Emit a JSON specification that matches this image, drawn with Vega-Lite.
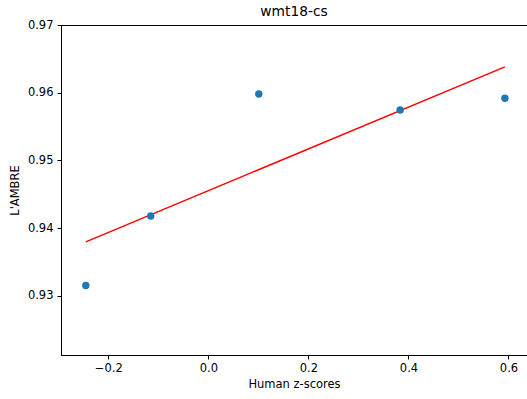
{
  "$schema": "https://vega.github.io/schema/vega-lite/v6.json",
  "width": 466,
  "height": 330,
  "autosize": "none",
  "padding": {"left": 61, "top": 25, "right": 0, "bottom": 44},
  "title": {"text": "wmt18-cs", "font": "DejaVu Sans", "fontSize": 13.8, "fontWeight": "normal", "color": "#000000", "anchor": "middle", "offset": 0},
  "config": {
    "view": {"stroke": "#000000", "strokeWidth": 1},
    "axis": {"grid": false, "domainColor": "#000000", "tickColor": "#000000", "tickSize": 4, "labelFont": "DejaVu Sans", "labelFontSize": 11.5, "labelColor": "#000000", "titleFont": "DejaVu Sans", "titleFontSize": 11.5, "titleFontWeight": "normal", "titleColor": "#000000"}
  },
  "data": {"values": [
    {"z": -0.245, "score": 0.93152},
    {"z": -0.1152, "score": 0.94177},
    {"z": 0.1008, "score": 0.95981},
    {"z": 0.3834, "score": 0.95744},
    {"z": 0.5928, "score": 0.95917}
  ]},
  "layer": [
    {
      "transform": [{"regression": "score", "on": "z", "extent": [-0.245, 0.5928]}],
      "mark": {"type": "line", "color": "#ff0000", "strokeWidth": 1.5, "clip": true},
      "encoding": {
        "x": {"field": "z", "type": "quantitative"},
        "y": {"field": "score", "type": "quantitative"}
      }
    },
    {
      "mark": {"type": "point", "filled": true, "color": "#1f77b4", "opacity": 1, "size": 55},
      "encoding": {
        "x": {"field": "z", "type": "quantitative", "scale": {"domain": [-0.2946, 0.637], "nice": false, "zero": false}, "axis": {"title": "Human z-scores", "values": [-0.2, 0, 0.2, 0.4, 0.6], "format": ".1f", "labelPadding": 3, "titlePadding": 5}},
        "y": {"field": "score", "type": "quantitative", "scale": {"domain": [0.92124, 0.97], "nice": false, "zero": false}, "axis": {"title": "L'AMBRE", "values": [0.93, 0.94, 0.95, 0.96, 0.97], "format": ".2f", "labelPadding": 4, "titlePadding": 7}}
      }
    }
  ]
}
